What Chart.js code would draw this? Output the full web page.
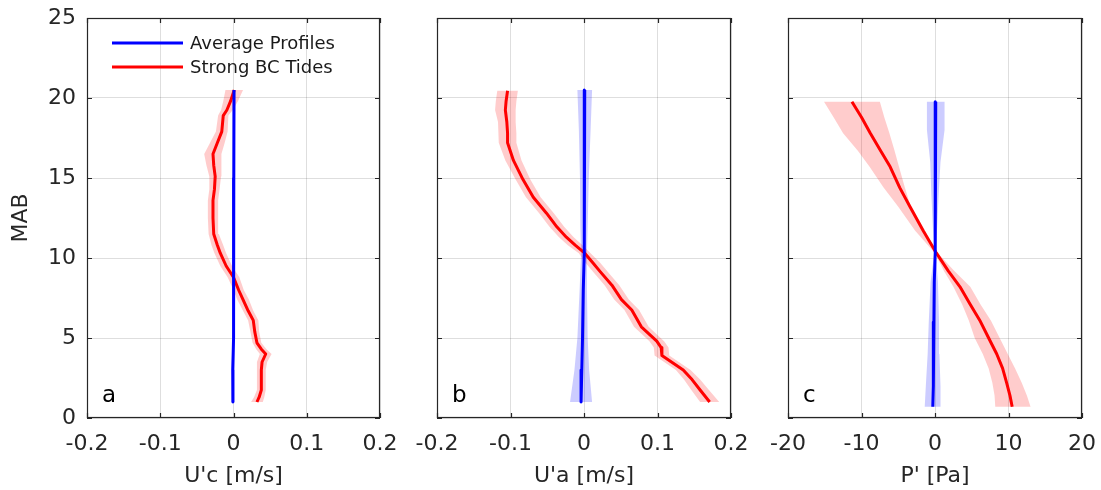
<!DOCTYPE html>
<html>
<head>
<meta charset="utf-8">
<script src="https://cdn.jsdelivr.net/npm/chart.js@4.4.1/dist/chart.umd.min.js"></script>
<style>
  html, body { margin: 0; padding: 0; background: #fff; }
  #wrap { position: relative; width: 1101px; height: 490px; }
  canvas { position: absolute; top: 0; }
</style>
</head>
<body>
<div id="wrap">
  <canvas id="panelA" width="400" height="490" style="left:0px"></canvas>
  <canvas id="panelB" width="350" height="490" style="left:400px"></canvas>
  <canvas id="panelC" width="351" height="490" style="left:750px"></canvas>
</div>
<script>
// ---- data (x = anomaly, y = metres above bottom) ----
const mabTicks = [0, 5, 10, 15, 20, 25];
const velTicks = [-0.2, -0.1, 0, 0.1, 0.2];
const presTicks = [-20, -10, 0, 10, 20];

const seriesLabels = ['Average Profiles', 'Strong BC Tides'];

// panel a : U'c
const aRedY = [20.5, 19.8, 19.25, 18.9, 17.9, 17.2, 16.5, 15.8, 15.1, 14.3, 13.6, 12.5, 11.5, 10.8, 10.3, 9.5, 8.8, 8.0, 7.4, 6.7, 6.1, 5.4, 4.7, 4.3, 4.0, 3.5, 3.0, 2.3, 1.75, 1.3, 1.0];
const aRedX = [0.001, -0.004, -0.009, -0.014, -0.016, -0.022, -0.028, -0.027, -0.025, -0.026, -0.028, -0.028, -0.027, -0.022, -0.018, -0.010, 0.000, 0.007, 0.013, 0.020, 0.027, 0.029, 0.032, 0.038, 0.044, 0.039, 0.038, 0.038, 0.038, 0.035, 0.032];
const aRedErr = [0.012, 0.010, 0.008, 0.007, 0.008, 0.010, 0.012, 0.010, 0.008, 0.007, 0.007, 0.007, 0.007, 0.008, 0.008, 0.008, 0.008, 0.007, 0.008, 0.007, 0.007, 0.006, 0.006, 0.007, 0.008, 0.007, 0.006, 0.006, 0.006, 0.007, 0.008];
const aBlueY = [20.5, 15, 10, 5, 3, 1];
const aBlueX = [0.0007, 0.0004, 0.0002, 0.0, -0.001, -0.0008];
const aBlueErr = [0.002, 0.0015, 0.001, 0.0015, 0.002, 0.002];

// panel b : U'a
const bRedY = [20.45, 19.8, 19.25, 18.5, 17.8, 17.2, 16.1, 14.9, 13.8, 12.8, 11.95, 11.3, 10.8, 10.3, 9.7, 9.15, 8.3, 7.4, 6.75, 5.7, 4.8, 4.4, 3.9, 3.0, 2.4, 1.75, 1.0];
const bRedX = [-0.104, -0.106, -0.107, -0.105, -0.104, -0.104, -0.096, -0.083, -0.069, -0.051, -0.037, -0.024, -0.012, 0.001, 0.012, 0.022, 0.038, 0.051, 0.065, 0.078, 0.099, 0.105, 0.106, 0.135, 0.147, 0.158, 0.171];
const bRedErr = [0.014, 0.014, 0.014, 0.012, 0.012, 0.012, 0.011, 0.010, 0.010, 0.010, 0.010, 0.010, 0.010, 0.008, 0.010, 0.010, 0.010, 0.010, 0.010, 0.010, 0.010, 0.010, 0.010, 0.010, 0.011, 0.012, 0.013];
const bBlueY = [20.5, 18, 15, 12, 10.3, 8, 5, 3, 1];
const bBlueX = [0.001, 0.001, 0.0005, 0.0, 0.0, -0.001, -0.002, -0.003, -0.004];
const bBlueErr = [0.010, 0.008, 0.006, 0.005, 0.004, 0.005, 0.007, 0.010, 0.015];

// panel c : P'
const cRedY = [19.77, 18.8, 17.8, 16.7, 15.7, 14.4, 13.2, 11.7, 10.3, 9.2, 8.2, 7.1, 6.1, 5.0, 4.0, 3.1, 2.2, 1.4, 0.7];
const cRedX = [-11.3, -10.0, -8.8, -7.4, -6.1, -4.8, -3.4, -1.6, 0.2, 1.8, 3.4, 4.8, 6.1, 7.3, 8.4, 9.2, 9.75, 10.2, 10.5];
const cRedLo = [-15.1, -13.8, -12.5, -10.5, -8.9, -7.0, -5.0, -2.7, 0.0, 1.2, 2.5, 3.7, 4.6, 5.4, 6.5, 7.3, 7.8, 8.1, 8.2];
const cRedHi = [-7.5, -6.9, -6.2, -5.5, -4.9, -4.1, -3.3, -1.5, 0.4, 2.6, 4.8, 6.2, 7.6, 8.8, 9.9, 10.9, 11.8, 12.5, 13.0];
const cBlueY = [19.77, 18, 16, 14, 12, 10.3, 8.5, 6, 4, 2, 0.7];
const cBlueX = [0.1, 0.1, 0.05, 0.0, 0.0, 0.0, -0.1, -0.15, -0.2, -0.25, -0.3];
const cBlueErr = [1.2, 1.2, 0.7, 0.5, 0.3, 0.1, 0.5, 0.7, 0.8, 1.0, 1.1];

// ---- styling ----
const INK = '#262626';
const RED = '#ff0000';
const BLUE = '#0000ff';
const RED_BAND = 'rgba(255, 0, 0, 0.2)';
const BLUE_BAND = 'rgba(0, 0, 255, 0.2)';
const FONT = "'DejaVu Sans', sans-serif";

Chart.defaults.font.family = FONT;
Chart.defaults.color = INK;

const charts = {};

function profile(xs, ys) {
  return xs.map((x, i) => ({ x, y: ys[i] }));
}

// polygon: down the low edge, back up the high edge
function band(ys, lo, hi) {
  const down = lo.map((x, i) => ({ x, y: ys[i] }));
  const up = hi.map((x, i) => ({ x, y: ys[i] })).reverse();
  return down.concat(up);
}

function symBand(xs, ys, err) {
  return band(ys, xs.map((x, i) => x - err[i]), xs.map((x, i) => x + err[i]));
}

function lineDataset(label, data, color) {
  return { label, data, showLine: true, borderColor: color, borderWidth: 3, pointRadius: 0, tension: 0, fill: false, borderJoinStyle: 'round' };
}

function bandDataset(data, color) {
  return { data, showLine: true, borderWidth: 0, borderColor: 'rgba(0,0,0,0)', backgroundColor: color, pointRadius: 0, tension: 0, fill: 'shape' };
}

const boxPlugin = {
  id: 'matlabBox',
  afterDraw(chart) {
    const opts = chart.options.plugins.matlabBox || {};
    const { ctx, chartArea: a, scales } = chart;
    ctx.save();
    ctx.strokeStyle = INK;
    ctx.lineWidth = 1.2;
    ctx.beginPath();
    scales.x.ticks.forEach((t) => {
      const px = Math.round(scales.x.getPixelForValue(t.value)) + 0.5;
      ctx.moveTo(px, a.bottom); ctx.lineTo(px, a.bottom - 5);
      ctx.moveTo(px, a.top); ctx.lineTo(px, a.top + 5);
    });
    scales.y.ticks.forEach((t) => {
      const py = Math.round(scales.y.getPixelForValue(t.value)) + 0.5;
      ctx.moveTo(a.left, py); ctx.lineTo(a.left + 5, py);
      ctx.moveTo(a.right, py); ctx.lineTo(a.right - 5, py);
    });
    ctx.stroke();
    ctx.strokeRect(a.left + 0.5, a.top + 0.5, a.right - a.left - 1, a.bottom - a.top - 1);

    if (opts.letter) {
      ctx.fillStyle = '#000';
      ctx.font = `23px ${FONT}`;
      ctx.textAlign = 'left';
      ctx.textBaseline = 'alphabetic';
      ctx.fillText(opts.letter, a.left + 15, a.bottom - 16);
    }

    if (opts.legend) {
      const entries = chart.data.datasets.filter((d) => d.label);
      ctx.font = `18px ${FONT}`;
      ctx.textBaseline = 'middle';
      entries.forEach((d, i) => {
        const y = a.top + 25 + i * 24;
        ctx.strokeStyle = d.borderColor;
        ctx.lineWidth = 3;
        ctx.beginPath();
        ctx.moveTo(a.left + 25, y);
        ctx.lineTo(a.left + 96, y);
        ctx.stroke();
        ctx.fillStyle = '#1a1a1a';
        ctx.fillText(d.label, a.left + 103, y + 1);
      });
    }
    ctx.restore();
  }
};

function renderPanel(id, cfg) {
  const grid = { color: 'rgba(0, 0, 0, 0.13)', lineWidth: 1, drawTicks: false };
  charts[id] = new Chart(document.getElementById(id), {
    type: 'scatter',
    data: {
      datasets: [
        lineDataset(seriesLabels[0], cfg.blue, BLUE),
        lineDataset(seriesLabels[1], cfg.red, RED),
        bandDataset(cfg.blueBand, BLUE_BAND),
        bandDataset(cfg.redBand, RED_BAND)
      ]
    },
    options: {
      responsive: false,
      animation: false,
      devicePixelRatio: 1,
      layout: { padding: { top: 18, right: cfg.padRight, left: 0, bottom: 0 } },
      plugins: {
        legend: { display: false },
        tooltip: { enabled: false },
        matlabBox: { letter: cfg.letter, legend: cfg.legend }
      },
      scales: {
        x: {
          type: 'linear',
          min: cfg.ticks[0],
          max: cfg.ticks[cfg.ticks.length - 1],
          afterBuildTicks: (scale) => { scale.ticks = cfg.ticks.map((value) => ({ value })); },
          afterFit: (scale) => { scale.height = 72; scale.paddingLeft = 0; scale.paddingRight = 0; },
          grid,
          border: { display: false },
          ticks: {
            autoSkip: false,
            maxRotation: 0,
            padding: 13,
            color: INK,
            font: { size: 22 },
            callback: (v) => String(Math.round(v * 100) / 100)
          },
          title: { display: true, text: cfg.xTitle, color: INK, font: { size: 22 }, padding: { top: 0, bottom: 1 } }
        },
        y: {
          type: 'linear',
          min: 0,
          max: 25,
          afterBuildTicks: (scale) => { scale.ticks = mabTicks.map((value) => ({ value })); },
          afterFit: (scale) => { scale.width = cfg.yWidth; scale.paddingTop = 0; scale.paddingBottom = 0; },
          grid,
          border: { display: false },
          ticks: { display: cfg.yLabels, padding: 11, color: INK, font: { size: 22 } },
          title: { display: cfg.yLabels, text: 'MAB', color: INK, font: { size: 22 }, padding: { top: 8, bottom: 0 } }
        }
      }
    },
    plugins: [boxPlugin]
  });
}

renderPanel('panelA', {
  letter: 'a', legend: true, yLabels: true, yWidth: 87, padRight: 20,
  ticks: velTicks, xTitle: "U'c [m/s]",
  blue: profile(aBlueX, aBlueY), red: profile(aRedX, aRedY),
  blueBand: symBand(aBlueX, aBlueY, aBlueErr), redBand: symBand(aRedX, aRedY, aRedErr)
});

renderPanel('panelB', {
  letter: 'b', legend: false, yLabels: false, yWidth: 37, padRight: 19,
  ticks: velTicks, xTitle: "U'a [m/s]",
  blue: profile(bBlueX, bBlueY), red: profile(bRedX, bRedY),
  blueBand: symBand(bBlueX, bBlueY, bBlueErr), redBand: symBand(bRedX, bRedY, bRedErr)
});

renderPanel('panelC', {
  letter: 'c', legend: false, yLabels: false, yWidth: 38, padRight: 19,
  ticks: presTicks, xTitle: "P' [Pa]",
  blue: profile(cBlueX, cBlueY), red: profile(cRedX, cRedY),
  blueBand: symBand(cBlueX, cBlueY, cBlueErr), redBand: band(cRedY, cRedLo, cRedHi)
});
</script>
</body>
</html>
